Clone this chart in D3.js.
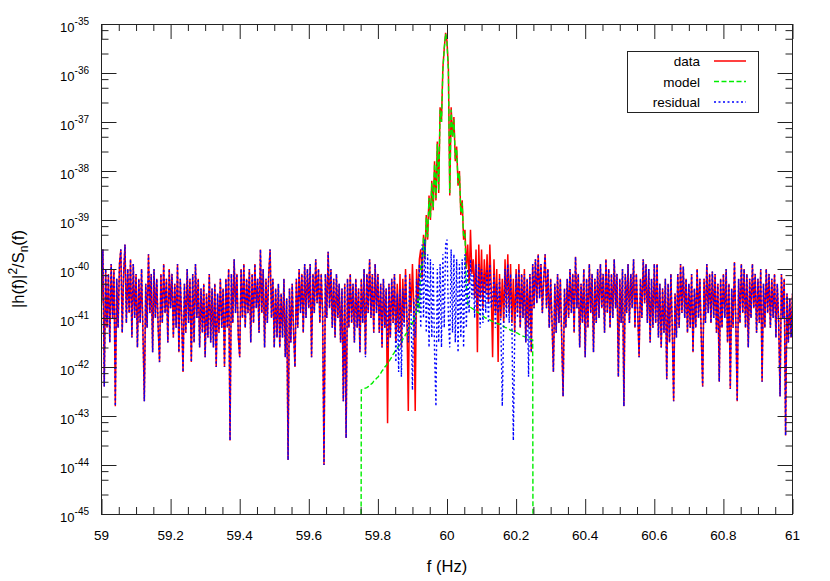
<!DOCTYPE html>
<html><head><meta charset="utf-8">
<script src="https://cdn.jsdelivr.net/npm/d3@7"></script>
<style>
html,body{margin:0;padding:0;background:#fff;}
svg{display:block;font-family:"Liberation Sans",Arial,Helvetica,sans-serif;}
</style></head>
<body><svg id="chart" width="830" height="581"></svg>
<script>
// ---- data (log10 of |h(f)|^2/Sn(f)), frequency grid 59..61 Hz ----
const fStart = 59, fStep = 0.004;
const dataExp = [
-40.7,-39.6,-42.4,-40.0,-41.2,-40.1,-41.5,-39.9,-41.0,-40.0,-42.8,-40.2,-41.2,-39.9,-39.6,-41.3,-40.1,-39.5,-41.1,-40.0,
-40.9,-39.8,-41.4,-39.9,-41.0,-40.1,-41.6,-40.2,-41.1,-40.0,-41.3,-42.7,-40.3,-41.2,-39.7,-40.9,-40.1,-41.7,-40.0,-41.0,
-40.2,-41.2,-41.9,-40.1,-41.1,-39.9,-40.9,-40.2,-41.5,-40.0,-40.8,-40.1,-41.4,-40.3,-41.2,-39.9,-41.7,-40.2,-41.0,-42.1,
-40.3,-41.3,-40.0,-41.1,-40.2,-41.9,-40.1,-41.5,-39.9,-41.0,-40.2,-41.6,-40.4,-41.3,-40.3,-41.8,-40.5,-41.4,-40.1,-41.5,
-40.4,-41.6,-40.3,-42.0,-40.5,-41.3,-40.2,-41.2,-40.4,-42.0,-40.2,-41.2,-40.0,-43.5,-40.1,-41.1,-39.8,-40.9,-40.1,-41.4,
-41.8,-40.0,-41.0,-39.9,-41.2,-40.2,-40.9,-40.0,-41.5,-40.1,-41.1,-39.9,-40.8,-40.2,-41.3,-39.6,-40.9,-40.0,-41.6,-40.2,
-41.1,-40.1,-39.6,-41.0,-40.2,-41.6,-40.4,-41.4,-40.3,-41.6,-40.5,-41.4,-40.2,-41.8,-40.6,-43.9,-40.4,-41.5,-40.3,-41.3,
-42.0,-40.2,-41.2,-40.0,-40.9,-40.1,-41.3,-39.9,-41.0,-40.0,-40.8,-39.9,-41.8,-40.1,-40.9,-39.8,-40.7,-40.0,-41.1,-40.1,
-40.9,-44.0,-40.1,-41.0,-39.65,-40.8,-40.0,-41.2,-40.2,-41.4,-40.1,-41.0,-40.3,-41.5,-40.4,-42.7,-40.3,-43.45,-40.2,-41.2,
-40.1,-41.1,-40.3,-41.5,-40.2,-41.2,-40.4,-41.7,-40.2,-41.1,-40.0,-41.75,-40.1,-40.9,-39.8,-41.0,-40.1,-41.3,-39.9,-40.9,
-40.1,-41.3,-40.3,-41.6,-40.2,-41.2,-40.4,-43.15,-40.3,-41.4,-40.2,-41.1,-40.1,-41.5,-40.3,-41.3,-40.1,-41.6,-40.2,-41.1,
-40.0,-41.0,-42.9,-40.1,-40.9,-39.9,-40.8,-42.9,-40.0,-40.7,-39.8,-39.6,-40.2,-39.3,-39.8,-38.9,-39.4,-38.5,-39.0,-38.2,
-38.8,-37.8,-38.6,-37.4,-38.45,-36.7,-37.0,-35.9,-35.5,-35.18,-35.35,-35.9,-38.5,-36.7,-37.3,-36.9,-37.8,-37.5,-38.3,-38.0,
-38.9,-38.6,-39.4,-39.2,-40.0,-39.5,-40.3,-39.2,-40.1,-39.8,-40.6,-39.6,-41.7,-39.5,-40.6,-39.6,-40.8,-39.8,-40.5,-39.7,
-40.7,-39.5,-40.4,-41.8,-39.8,-40.9,-40.0,-41.9,-40.1,-41.0,-40.2,-41.1,-39.8,-40.8,-39.7,-40.9,-39.9,-41.1,-40.2,-41.3,
-40.0,-40.9,-39.9,-41.2,-40.1,-41.0,-40.0,-41.5,-40.2,-41.2,-40.1,-41.7,-39.9,-40.8,-39.8,-40.7,-39.7,-40.6,-39.9,-40.9,
-40.2,-39.7,-40.8,-40.0,-41.2,-40.2,-41.1,-42.1,-40.3,-41.3,-40.1,-41.1,-40.2,-41.4,-42.6,-40.4,-41.2,-40.2,-41.0,-40.0,
-40.9,-40.1,-41.3,-39.75,-40.8,-40.1,-41.6,-40.3,-41.1,-40.0,-41.8,-40.2,-41.2,-39.9,-40.9,-40.1,-41.7,-40.2,-41.1,-40.0,
-41.0,-39.9,-40.8,-40.1,-41.3,-39.8,-40.9,-40.0,-41.2,-40.1,-41.0,-39.8,-40.8,-40.1,-42.2,-40.2,-41.1,-40.0,-42.8,-40.1,
-40.9,-39.9,-41.1,-40.1,-40.8,-39.8,-41.2,-40.1,-40.9,-41.8,-40.2,-41.0,-39.8,-40.7,-39.9,-41.1,-40.0,-41.5,-40.2,-41.2,
-39.9,-41.1,-39.9,-41.4,-40.3,-41.6,-40.4,-41.3,-40.2,-42.25,-40.3,-41.5,-40.1,-41.2,-42.7,-40.5,-41.4,-40.1,-41.2,-39.9,
-40.9,-39.95,-41.0,-40.2,-41.3,-40.3,-41.2,-40.1,-41.7,-40.4,-41.2,-40.0,-41.0,-40.2,-41.4,-42.4,-40.2,-41.1,-39.9,-40.9,
-40.1,-41.1,-40.05,-41.0,-40.1,-41.3,-40.3,-42.3,-40.2,-41.2,-40.1,-41.0,-40.0,-41.5,-40.3,-42.45,-40.4,-41.2,-39.86,-41.1,
-42.7,-40.2,-41.1,-39.9,-40.9,-40.0,-41.2,-40.1,-41.6,-40.2,-41.0,-39.9,-40.8,-40.1,-41.3,-40.2,-41.1,-40.0,-42.3,-40.3,
-41.2,-40.0,-40.9,-40.1,-41.2,-40.2,-41.0,-40.1,-41.4,-40.3,-41.1,-42.6,-40.1,-41.0,-40.2,-43.4,-40.5,-41.5,-40.6,-41.4,-40.5
];
// model is non-zero only between ~59.75 and ~60.25 Hz (first/last entries = 0 -> -60)
const modelStart = 187;
const modelExp = [
-60,
-42.47,-42.46,-42.44,-42.43,-42.42,-42.40,-42.39,-42.35,-42.33,-42.29,-42.27,-42.23,-42.21,-42.16,-42.13,-42.08,-42.05,-42.0,-41.97,-41.92,-41.89,-41.84,-41.8,-41.74,-41.7,-41.65,-41.62,-41.57,-41.53,-41.5,-41.43,-41.41,-41.33,-41.31,-41.22,-41.21,-41.1,-41.12,-40.98,-41.02,-40.85,-40.6,-40.9,-39.9,
-40.0,-39.35,-39.75,-38.95,-39.35,-38.55,-38.95,-38.25,-38.75,-37.85,-38.55,-37.45,-38.4,-36.75,-37.0,-35.95,-35.5,-35.2,-35.38,-35.95,-38.45,-36.75,-37.3,-36.95,-37.75,-37.55,-38.25,-38.05,-38.85,-38.65,-39.35,-39.3,
-40.3,-40.72,-40.76,-40.78,-40.8,-40.82,-40.84,-40.86,-40.88,-40.9,-40.92,-40.94,-40.96,-40.98,-41.0,-41.01,-41.03,-41.04,-41.06,-41.07,-41.08,-41.1,-41.11,-41.12,-41.13,-41.14,-41.16,-41.17,-41.19,-41.2,-41.22,-41.23,-41.25,-41.26,-41.28,-41.29,-41.3,-41.31,-41.33,-41.34,-41.35,-41.37,-41.38,-41.39,-41.41,-41.42,-41.43,-41.44,-41.45,
-60
];
// residual differs from data only where the model is non-zero
const residStart = 187;
const residExp = [
-41.7,-40.2,-41.1,-40.0,-41.8,-40.1,-40.9,-39.8,-41.0,-40.1,-41.3,-39.9,-40.9,
-40.1,-41.3,-40.3,-41.6,-40.2,-41.2,-40.4,-41.6,-40.3,-41.4,-40.2,-41.1,-40.1,-41.9,-40.5,-42.1,-40.4,-42.2,-40.4,-41.2,
-40.1,-41.0,-41.5,-40.2,-40.9,-42.47,-40.6,-41.4,-40.2,-40.9,
-39.9,-41.2,-39.5,-41.0,-39.4,-41.3,-39.7,-41.6,-39.8,-41.4,-39.9,-41.7,-42.8,-40.0,-41.5,-39.9,-41.6,-39.7,-41.2,-39.5,
-39.4,-41.0,-41.6,-39.6,-41.3,-39.7,-41.5,-39.8,-41.7,-39.9,-41.4,-39.8,-41.6,-39.7,-41.2,-40.0,
-40.9,-39.8,-40.6,-40.1,-41.0,-39.9,-40.8,-39.9,-41.2,-40.0,-41.1,-40.1,-40.9,-40.0,
-41.1,-39.9,-40.8,-40.6,-40.1,-41.2,-40.3,-40.9,-40.2,-41.2,-42.8,-41.1,-40.0,-41.0,-39.9,-41.1,-40.1,-41.2,-43.5,-41.3,
-40.1,-41.0,-40.0,-41.2,-40.1,-41.0,-40.1,-41.5,-40.2,-42.2,-40.1,-41.7,-39.9
];
const xTickValues = [59, 59.2, 59.4, 59.6, 59.8, 60, 60.2, 60.4, 60.6, 60.8, 61];
const xTickLabels = ["59","59.2","59.4","59.6","59.8","60","60.2","60.4","60.6","60.8","61"];
const yTickExps = [-45,-44,-43,-42,-41,-40,-39,-38,-37,-36,-35];
const legendNames = ["data","model","residual"];
const seriesColors = ["#ff0000","#00ee00","#0000ff"];

// ---- build series ----
const freq = i => fStart + fStep * i;
const dataSeries = dataExp.map((e, i) => ({f: freq(i), v: Math.pow(10, e)}));
const modelSeries = modelExp.map((e, k) => ({f: freq(modelStart + k), v: Math.pow(10, e)}));
const residSeries = dataExp.map((e, i) => {
  const k = i - residStart;
  const ee = (k >= 0 && k < residExp.length) ? residExp[k] : e;
  return {f: freq(i), v: Math.pow(10, ee)};
});

const svg = d3.select("#chart");
const L = 101.5, R = 792.5, T = 24, B = 514;
const x = d3.scaleLinear().domain([59, 61]).range([L, R]);
const y = d3.scaleLog().domain([1e-45, 1e-35]).range([B, T]);

svg.append("defs").append("clipPath").attr("id", "clip")
  .append("rect").attr("x", L).attr("y", T).attr("width", R - L).attr("height", B - T);

const line = d3.line().x(d => x(d.f)).y(d => y(d.v));
const plot = svg.append("g").attr("clip-path", "url(#clip)");
plot.append("path").datum(dataSeries).attr("d", line)
  .attr("fill", "none").attr("stroke", seriesColors[0]).attr("stroke-width", 1.5);
plot.append("path").datum(modelSeries).attr("d", line)
  .attr("fill", "none").attr("stroke", seriesColors[1]).attr("stroke-width", 1.4).attr("stroke-dasharray", "5,2.5");
plot.append("path").datum(residSeries).attr("d", line)
  .attr("fill", "none").attr("stroke", seriesColors[2]).attr("stroke-width", 1.4).attr("stroke-dasharray", "2,2.5");

// ---- axes / ticks ----
const xMinor = d3.range(0, 41).map(k => 59 + k * 0.05).filter(v => Math.abs(Math.round(v * 5) - v * 5) > 1e-6);
const yMinor = [];
yTickExps.slice(0, -1).forEach(k => [2.5, 5, 7.5].forEach(m => yMinor.push(m * Math.pow(10, k))));

function styleAxis(g) {
  g.select(".domain").remove();
  g.selectAll(".tick line").attr("stroke", "#222").attr("stroke-width", 1);
  g.selectAll(".tick text").remove();
}
const axes = [
  [d3.axisBottom(x), `translate(0,${B})`, xTickValues, xMinor],
  [d3.axisTop(x), `translate(0,${T})`, xTickValues, xMinor],
  [d3.axisLeft(y), `translate(${L},0)`, yTickExps.map(k => Math.pow(10, k)), yMinor],
  [d3.axisRight(y), `translate(${R},0)`, yTickExps.map(k => Math.pow(10, k)), yMinor]
];
axes.forEach(([ax, tr, maj, min]) => {
  svg.append("g").attr("transform", tr).call(ax.tickValues(maj).tickSize(-15).tickSizeOuter(0).tickFormat(() => "")).call(styleAxis);
  svg.append("g").attr("transform", tr).call(ax.tickValues(min).tickSize(-7).tickSizeOuter(0).tickFormat(() => "")).call(styleAxis);
});
svg.append("rect").attr("x", L).attr("y", T + 0.5).attr("width", R - L).attr("height", B - T)
  .attr("fill", "none").attr("stroke", "#222").attr("stroke-width", 1);

// x tick labels
svg.append("g").selectAll("text").data(xTickValues).join("text")
  .attr("x", d => x(d)).attr("y", B + 26).attr("text-anchor", "middle")
  .attr("font-size", 13.5).attr("fill", "#000")
  .text((d, i) => xTickLabels[i]);
// y tick labels 10^k
const yl = svg.append("g").selectAll("text").data(yTickExps).join("text")
  .attr("x", 89).attr("y", d => y(Math.pow(10, d)) + 7.5).attr("text-anchor", "end")
  .attr("font-size", 13).attr("fill", "#000");
yl.append("tspan").text("10");
yl.append("tspan").attr("dy", -6.5).attr("font-size", 10).text(d => String(d));

// axis titles
svg.append("text").attr("x", x(60)).attr("y", 572).attr("text-anchor", "middle")
  .attr("font-size", 16.5).text("f (Hz)");
const yt = svg.append("text").attr("transform", `translate(24,${(T + B) / 2}) rotate(-90)`)
  .attr("text-anchor", "middle").attr("font-size", 16.5);
yt.append("tspan").text("|h(f)|");
yt.append("tspan").attr("dy", -7).attr("font-size", 12).text("2");
yt.append("tspan").attr("dy", 7).text("/S");
yt.append("tspan").attr("dy", 4).attr("font-size", 12).text("n");
yt.append("tspan").attr("dy", -4).text("(f)");

// legend
const lg = svg.append("g");
lg.append("rect").attr("x", 627.5).attr("y", 51.5).attr("width", 131).attr("height", 61)
  .attr("fill", "#fff").attr("stroke", "#222").attr("stroke-width", 1);
const dashes = [null, "5,2.5", "2,2.5"];
legendNames.forEach((name, i) => {
  const cy = 61 + i * 20.5;
  lg.append("text").attr("x", 700).attr("y", cy + 5).attr("text-anchor", "end")
    .attr("font-size", 13.5).text(name);
  lg.append("line").attr("x1", 714).attr("x2", 746).attr("y1", cy).attr("y2", cy)
    .attr("stroke", seriesColors[i]).attr("stroke-width", 1.5)
    .attr("stroke-dasharray", dashes[i]);
});
if (dataExp.length !== 501 || modelExp.length !== 127 || residExp.length !== 126) {
  throw new Error("lengths " + dataExp.length + " " + modelExp.length + " " + residExp.length);
}
</script></body></html>
